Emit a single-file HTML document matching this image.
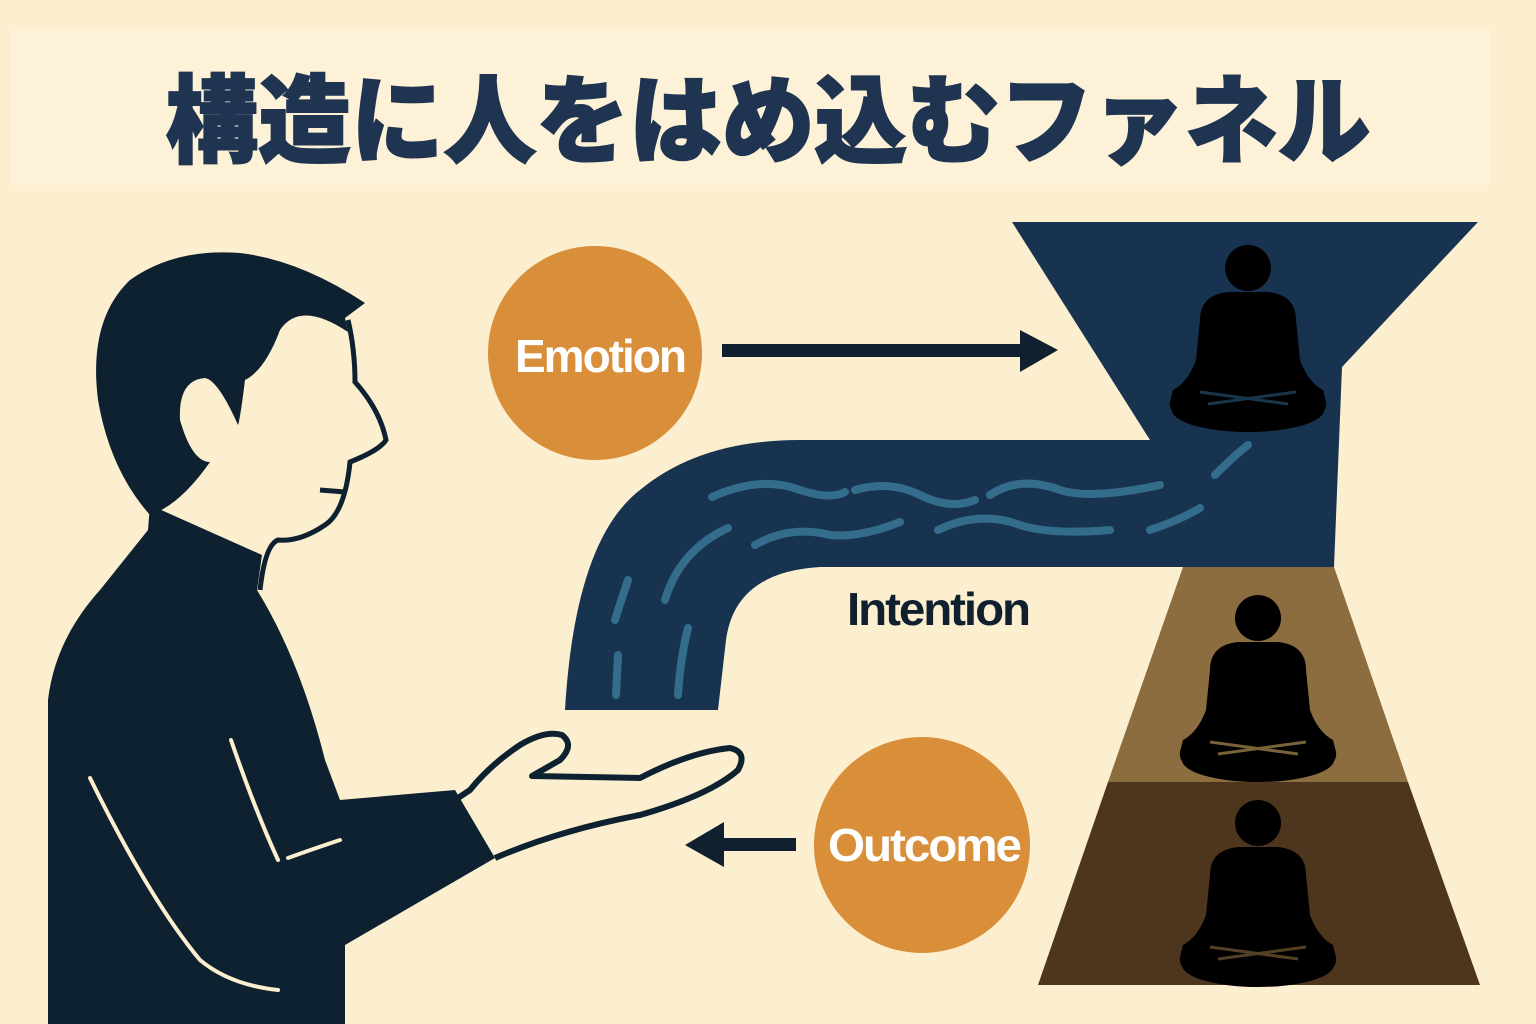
<!DOCTYPE html>
<html><head><meta charset="utf-8"><style>
html,body{margin:0;padding:0}
body{width:1536px;height:1024px;background:#fcefcf;overflow:hidden;position:relative}
svg{position:absolute;left:0;top:0}
</style></head><body>
<svg width="1536" height="1024" viewBox="0 0 1536 1024" xmlns="http://www.w3.org/2000/svg">
<rect x="10" y="30" width="1480" height="155" fill="#fdf2d8"/>
<text x="768" y="155" text-anchor="middle" textLength="1205" lengthAdjust="spacingAndGlyphs" font-family="'Liberation Sans','Noto Sans CJK JP',sans-serif" font-weight="900" font-size="96" fill="#1f3450" stroke="#1f3450" stroke-width="2">構造に人をはめ込むファネル</text>

<!-- funnel top + pipe -->
<path d="M1012,222 L1478,222 L1342,367 L1334,567 L820,567 Q735,572 726,640 L718,710 L565,710 Q575,540 640,490 Q700,440 800,440 L1150,440 Z" fill="#17334f"/>
<g fill="none" stroke="#346d8c" stroke-width="8" stroke-linecap="round">
<path d="M712,497 Q760,475 800,490 Q830,500 845,492"/>
<path d="M855,490 Q890,480 920,495 Q950,510 975,500"/>
<path d="M990,495 Q1020,475 1060,490 Q1090,500 1160,485"/>
<path d="M755,545 Q790,525 830,535 Q860,538 900,522"/>
<path d="M938,530 Q980,510 1020,525 Q1050,535 1110,530"/>
<path d="M1150,530 Q1180,520 1200,508"/>
<path d="M1215,475 Q1235,455 1248,445"/>
<path d="M728,528 Q680,550 665,600"/>
<path d="M628,580 Q618,610 615,620"/>
<path d="M688,628 Q680,660 678,695"/>
<path d="M618,655 L616,695"/>
</g>
<polygon points="1183,567 1334,567 1408,782 1108,782" fill="#8c6d3f"/>
<polygon points="1108,782 1408,782 1480,985 1038,985" fill="#4e351d"/>

<defs>
<g id="med">
<path d="M-48,-100 Q-48,-125 -20,-128 L20,-128 Q48,-125 48,-100 L52,-60 Q60,-38 75,-30 L78,-18 Q80,-5 60,0 Q30,5 0,5 Q-30,5 -60,0 Q-80,-5 -78,-18 L-75,-30 Q-60,-38 -52,-60 Z" fill="#000"/>
<ellipse cx="0" cy="-10" rx="76" ry="22" fill="#000"/>
<circle cx="0" cy="-152" r="23" fill="#000"/>
<path d="M-48,-28 L40,-16 M48,-28 L-40,-16" stroke-width="3" stroke="currentColor" opacity="0.6"/>
</g>
</defs>
<g color="#2b5c7f"><use href="#med" x="1248" y="420"/></g>
<g color="#c8a35c"><use href="#med" x="1258" y="770"/></g>
<g color="#8c6d3f"><use href="#med" x="1258" y="975"/></g>

<circle cx="595" cy="353" r="107" fill="#d98f3a"/>
<circle cx="922" cy="845" r="108" fill="#d98f3a"/>
<g font-family="'Liberation Sans',sans-serif" font-weight="bold" letter-spacing="-2">
<text x="600" y="372" text-anchor="middle" font-size="46" fill="#fff" textLength="170" lengthAdjust="spacingAndGlyphs">Emotion</text>
<text x="924" y="861" text-anchor="middle" font-size="46" fill="#fff" textLength="192" lengthAdjust="spacingAndGlyphs">Outcome</text>
<text x="938" y="625" text-anchor="middle" font-size="46" fill="#10202e" textLength="182" lengthAdjust="spacingAndGlyphs">Intention</text>
</g>
<rect x="722" y="344" width="300" height="13" fill="#10202e"/>
<polygon points="1020,330 1058,350 1020,372" fill="#10202e"/>
<rect x="722" y="838" width="74" height="13" fill="#10202e"/>
<polygon points="724,822 685,845 724,867" fill="#10202e"/>

<!-- person -->
<path d="M48,700 Q55,640 100,590 L148,530 L150,505 L262,555 L257,590 Q300,660 325,760 L340,800 L455,790 L495,858 L345,945 L345,1024 L48,1024 Z" fill="#0d2130"/>
<path d="M150,515 Q110,470 98,400 Q88,320 130,280 Q175,248 240,253 Q300,260 365,303 L345,318 L348,332 Q300,300 280,330 Q265,370 245,380 Q240,420 238,425 Q218,380 205,378 Q178,380 180,420 Q192,462 210,462 Q180,505 150,515 Z" fill="#0d2130"/>
<path d="M348,320 Q355,350 355,382 Q380,410 386,440 Q380,450 350,462 Q345,512 325,525 Q300,542 278,540 Q265,545 260,590" fill="none" stroke="#0d2130" stroke-width="5"/>
<path d="M320,490 L345,492" stroke="#0d2130" stroke-width="5"/>
<path d="M455,800 L470,790 Q490,765 520,745 Q545,730 562,735 Q575,745 560,760 L532,776 L640,778 Q690,752 730,748 Q748,752 738,770 Q710,795 640,815 Q560,830 495,858" fill="none" stroke="#0d2130" stroke-width="6" stroke-linejoin="round"/>
<g fill="none" stroke="#fcefcf" stroke-width="4" stroke-linecap="round">
<path d="M90,778 Q150,900 200,960 Q230,985 278,990"/>
<path d="M231,740 Q255,810 278,860"/>
<path d="M288,858 Q310,850 340,840"/>
</g>
</svg>
</body></html>
